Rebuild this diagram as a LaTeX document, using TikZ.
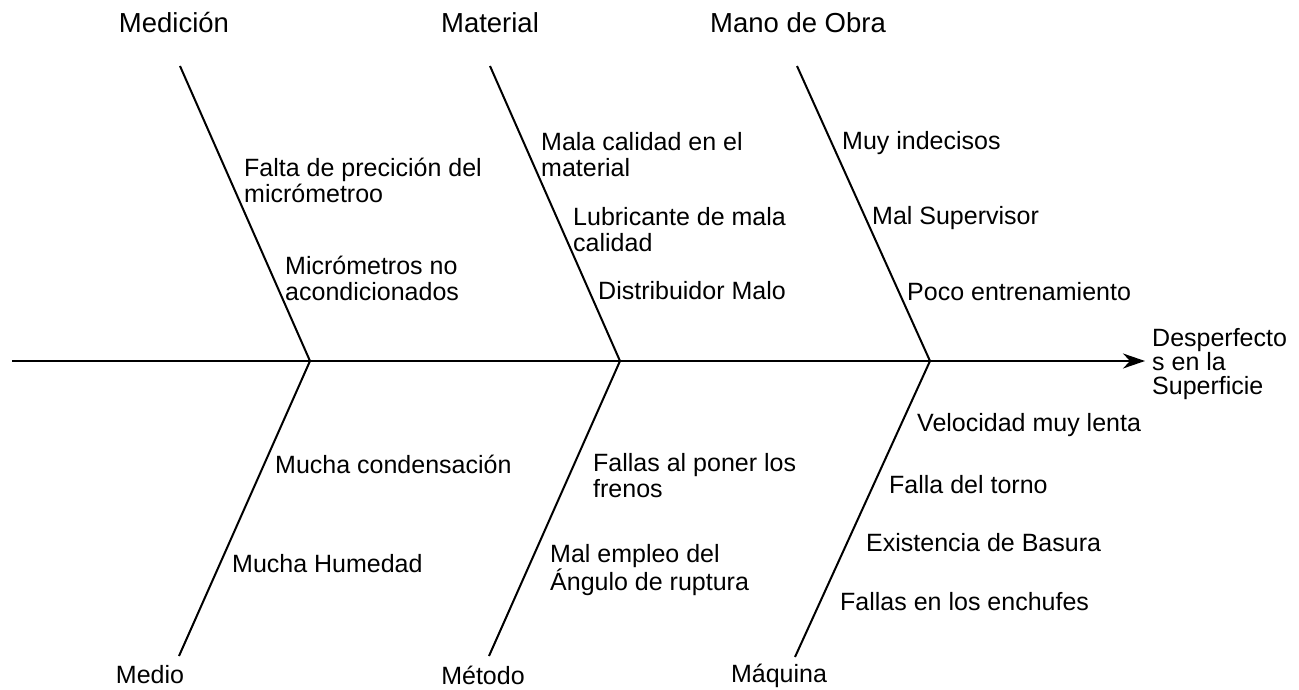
\documentclass[tikz,border=0pt]{standalone}
\usepackage{fontspec}
\setmainfont{Liberation Sans}
\usetikzlibrary{arrows.meta}
\tikzset{
  bone/.style={line width=2pt, black},
  spine/.style={line width=2pt, black, -{Stealth[length=22pt,width=15pt,inset=7pt]}},
  cause/.style={anchor=west, inner sep=0pt, align=left, font=\fontsize{25}{26}\selectfont},
  catlabel/.style={anchor=center, inner sep=0pt, font=\fontsize{27.5}{29}\selectfont},
  lowlabel/.style={anchor=center, inner sep=0pt, font=\fontsize{25}{26}\selectfont},
  effect/.style={anchor=west, inner sep=0pt, align=left, font=\fontsize{25}{24}\selectfont}
}
\begin{document}
\begin{tikzpicture}[x=1pt,y=-1pt]
\useasboundingbox (0,0) rectangle (1299,690);
% spine
\coordinate (s0) at (12,361);
\coordinate (tip) at (1145,361);
\coordinate (j1) at (310,361);
\coordinate (j2) at (620,361);
\coordinate (j3) at (930,361);
\coordinate (t1) at (180,66);
\coordinate (t2) at (490,66);
\coordinate (t3) at (797,66);
\coordinate (b1) at (179,656);
\coordinate (b2) at (489,656);
\coordinate (b3) at (795,657);
\draw[spine] (s0) -- (tip);
\draw[bone] (t1) -- (j1) -- (b1);
\draw[bone] (t2) -- (j2) -- (b2);
\draw[bone] (t3) -- (j3) -- (b3);
% categories
\node[catlabel] (cMed) at (174,23) {Medición};
\node[catlabel] (cMat) at (490,23) {Material};
\node[catlabel] (cMan) at (798,23) {Mano de Obra};
\node[lowlabel] (cMedio) at (150,675) {Medio};
\node[lowlabel] (cMet) at (483,675) {Método};
\node[lowlabel] (cMaq) at (779,676) {Máquina};
% effect
\node[effect] (eff) at (1152,364) {Desperfecto\\s en la\\Superficie};
% causes top
\node[cause] (c1) at (244,180) {Falta de precición del\\micrómetroo};
\node[cause] (c2) at (285,278) {Micrómetros no\\acondicionados};
\node[cause] (c3) at (541,155) {Mala calidad en el\\material};
\node[cause] (c4) at (573,230) {Lubricante de mala\\calidad};
\node[cause] (c5) at (598,291) {Distribuidor Malo};
\node[cause] (c6) at (842,143) {Muy indecisos};
\node[cause] (c7) at (872,218) {Mal Supervisor};
\node[cause] (c8) at (907,292) {Poco entrenamiento};
% causes bottom
\node[cause] (c9) at (275,464) {Mucha condensación};
\node[cause] (c10) at (232,564) {Mucha Humedad};
\node[cause] (c11) at (593,476) {Fallas al poner los\\frenos};
\node[cause] (c12) at (550,570) {Mal empleo del\\Ángulo de ruptura};
\node[cause] (c13) at (917,425) {Velocidad muy lenta};
\node[cause] (c14) at (889,485) {Falla del torno};
\node[cause] (c15) at (866,543) {Existencia de Basura};
\node[cause] (c16) at (840,602) {Fallas en los enchufes};
\end{tikzpicture}
\end{document}
